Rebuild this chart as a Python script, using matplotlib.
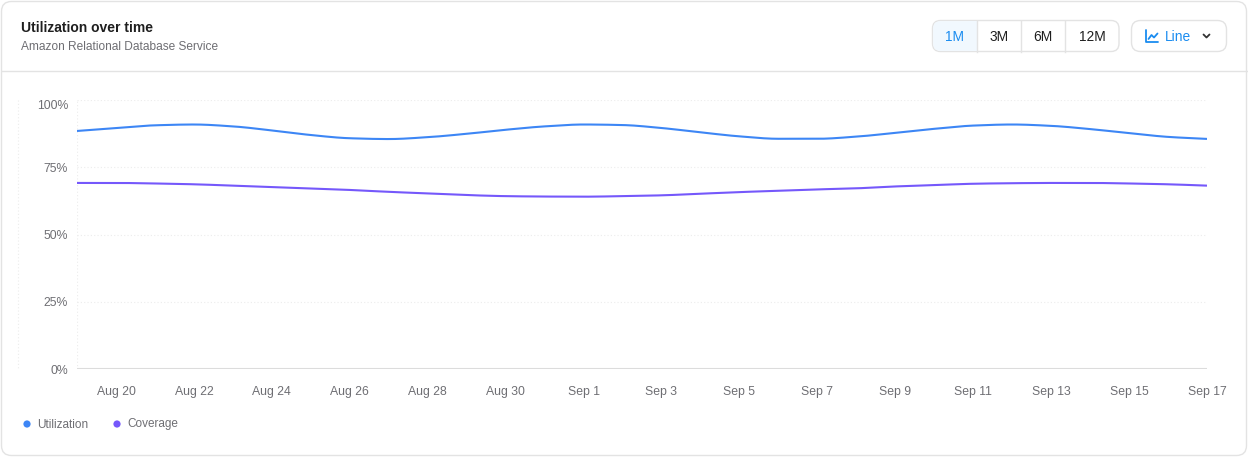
import numpy as np
import matplotlib
matplotlib.use("Agg")
import matplotlib.pyplot as plt
from matplotlib.patches import FancyBboxPatch, Circle
from matplotlib.transforms import ScaledTranslation

# ---------------- data ----------------
dates = ["Aug 19", "Aug 20", "Aug 21", "Aug 22", "Aug 23", "Aug 24", "Aug 25", "Aug 26",
         "Aug 27", "Aug 28", "Aug 29", "Aug 30", "Aug 31", "Sep 1", "Sep 2", "Sep 3",
         "Sep 4", "Sep 5", "Sep 6", "Sep 7", "Sep 8", "Sep 9", "Sep 10", "Sep 11",
         "Sep 12", "Sep 13", "Sep 14", "Sep 15", "Sep 16", "Sep 17"]
utilization = [88.5, 89.6, 90.6, 90.9, 90.2, 88.7, 87.0, 85.8, 85.5, 86.2,
               87.45, 88.95, 90.2, 90.9, 90.7, 89.6, 88.0, 86.5, 85.6, 85.6,
               86.4, 87.8, 89.3, 90.5, 90.9, 90.4, 89.2, 87.7, 86.3, 85.55]
coverage = [69.2, 69.2, 69.0, 68.7, 68.2, 67.7, 67.2, 66.6, 65.9, 65.3,
            64.7, 64.3, 64.15, 64.1, 64.3, 64.6, 65.2, 65.8, 66.3, 66.8,
            67.2, 67.9, 68.4, 68.9, 69.1, 69.2, 69.2, 69.0, 68.7, 68.2]
y_ticks = [0, 25, 50, 75, 100]
y_tick_labels = ["0%", "25%", "50%", "75%", "100%"]
series_names = ["Utilization", "Coverage"]
ranges = ["1M", "3M", "6M", "12M"]

BLUE = "#3d86f5"
PURPLE = "#7558fb"
GRAY_TXT = "#6e6e73"
BORDER = "#e3e3e3"

plt.rcParams["font.family"] = ["Liberation Sans", "DejaVu Sans"]

W, H = 1248, 457
fig = plt.figure(figsize=(W / 100, H / 100), dpi=100)
fig.patch.set_facecolor("white")

# overlay in pixel coords
ov = fig.add_axes([0, 0, 1, 1])
ov.set_xlim(0, W)
ov.set_ylim(H, 0)
ov.axis("off")

def px(v):
    return v * 0.72  # px -> pt

# card
ov.add_patch(FancyBboxPatch((1.5, 1.5), W - 3, H - 3,
                            boxstyle="round,pad=0,rounding_size=10",
                            fc="white", ec=BORDER, lw=1.0))
ov.plot([1.5, W - 1.5], [71, 71], color=BORDER, lw=1.0)

ov.text(21, 28, "Utilization over time", fontsize=px(13.9), fontweight="bold",
        color="#1f1f1f", va="center", ha="left")
ov.text(21, 47.5, "Amazon Relational Database Service", fontsize=px(11.9),
        color=GRAY_TXT, va="center", ha="left")

# segmented buttons
ov.add_patch(FancyBboxPatch((932.5, 20.5), 186.5, 31,
                            boxstyle="round,pad=0,rounding_size=8",
                            fc="white", ec=BORDER, lw=1.0))
ov.add_patch(FancyBboxPatch((933.2, 21.2), 43.5, 29.6,
                            boxstyle="round,pad=0,rounding_size=7",
                            fc="#f1f8fe", ec="none"))
ov.add_patch(plt.Rectangle((968, 21.2), 9, 29.6, fc="#f1f8fe", ec="none"))
for xd in [977, 1021, 1065]:
    ov.plot([xd, xd], [20.5, 51.5], color=BORDER, lw=1.0)
for lab, xc in zip(ranges, [955, 999, 1043, 1092]):
    ov.text(xc, 37, lab, fontsize=px(13.8), ha="center", va="center",
            color="#1a8cf0" if lab == "1M" else "#1f1f1f")

# dropdown
ov.add_patch(FancyBboxPatch((1131.5, 20.5), 95, 31,
                            boxstyle="round,pad=0,rounding_size=9",
                            fc="white", ec=BORDER, lw=1.0))
ov.plot([1146, 1146, 1158], [30, 42, 42], color="#1a8cf0", lw=1.3,
        solid_capstyle="round", solid_joinstyle="round")
ov.plot([1148.5, 1151.5, 1154, 1157.5], [39, 35, 37.5, 33.5], color="#1a8cf0",
        lw=1.3, solid_capstyle="round", solid_joinstyle="round")
ov.text(1165, 37, "Line", fontsize=px(13.8), ha="left", va="center", color="#1a8cf0")
ov.plot([1203.5, 1206.5, 1209.5], [34.5, 37.5, 34.5], color="#333333", lw=1.3,
        solid_capstyle="round", solid_joinstyle="round")

# faint vertical dotted guide
ov.plot([17.5, 17.5], [100, 370], color="#ececec", lw=0.8, ls=(0, (1, 2)))

# ---------------- plot axes ----------------
x0, x1 = 77, 1207
ytop, ybot = 100, 369.3
ax = fig.add_axes([x0 / W, (H - ybot) / H, (x1 - x0) / W, (ybot - ytop) / H])
ax.patch.set_alpha(0)

xs = np.arange(len(dates))

def monotone(x, y, n=24):
    x = np.asarray(x, float); y = np.asarray(y, float)
    h = np.diff(x); d = np.diff(y) / h
    m = np.zeros_like(y)
    m[0], m[-1] = d[0], d[-1]
    for i in range(1, len(y) - 1):
        if d[i - 1] * d[i] <= 0:
            m[i] = 0
        else:
            w1 = 2 * h[i] + h[i - 1]; w2 = h[i] + 2 * h[i - 1]
            m[i] = (w1 + w2) / (w1 / d[i - 1] + w2 / d[i])
    xo, yo = [], []
    for i in range(len(x) - 1):
        t = np.linspace(0, 1, n, endpoint=False)
        h00 = 2 * t**3 - 3 * t**2 + 1; h10 = t**3 - 2 * t**2 + t
        h01 = -2 * t**3 + 3 * t**2; h11 = t**3 - t**2
        xo.append(x[i] + t * h[i])
        yo.append(h00 * y[i] + h10 * h[i] * m[i] + h01 * y[i + 1] + h11 * h[i] * m[i + 1])
    xo.append([x[-1]]); yo.append([y[-1]])
    return np.concatenate(xo), np.concatenate(yo)

for vals, col in [(utilization, BLUE), (coverage, PURPLE)]:
    sx, sy = monotone(xs, vals)
    ax.plot(sx, sy, color=col, lw=1.5, solid_capstyle="butt", zorder=3)

ax.set_xlim(xs[0], xs[-1])
ax.set_ylim(0, 100)
for s in ax.spines.values():
    s.set_visible(False)
for yv in y_ticks[1:]:
    ax.axhline(yv, color="#ececec", lw=0.8, ls=(0, (1, 2)), zorder=1)
ax.axhline(0, color="#dcdcdc", lw=1.5, zorder=2)
ax.axvline(xs[0], color="#ececec", lw=0.8, ls=(0, (1, 2)), zorder=1)

ax.set_yticks(y_ticks)
ax.set_yticklabels(y_tick_labels)
tick_idx = xs[1::2]
ax.set_xticks(tick_idx)
ax.set_xticklabels([dates[i] for i in tick_idx])
ax.tick_params(axis="both", length=0, labelsize=px(12.2), colors=GRAY_TXT)
ax.tick_params(axis="y", pad=px(9))
ax.tick_params(axis="x", pad=px(17))

# shift the top (100%) label down like the reference
top_lab = ax.get_yticklabels()[-1]
top_lab.set_transform(top_lab.get_transform() +
                      ScaledTranslation(0, -4.5 / 100, fig.dpi_scale_trans))

# legend
for (name, col), xc in zip(zip(series_names, [BLUE, PURPLE]), [27, 117]):
    ov.add_patch(Circle((xc, 424), 3.6, fc=col, ec="none"))
    ov.text(xc + 10, 424.5, name, fontsize=px(11.8), color=GRAY_TXT, ha="left", va="center")

fig.savefig("out.png", dpi=100, facecolor="white")
